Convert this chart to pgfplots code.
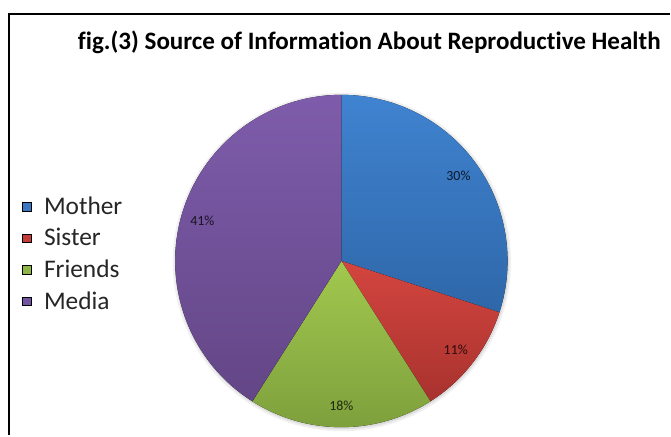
\documentclass[border=0pt]{standalone}
\usepackage{fontspec}
\setmainfont{Carlito}[Ligatures=NoCommon]
\usepackage{pgfplots}
\usepackage{pgfplotstable}
\pgfplotsset{compat=1.18}

% slice colours: lighter at the top, darker at the bottom
\definecolor{sliceTop0}{HTML}{4083D0}
\definecolor{sliceBot0}{HTML}{2E67A9}
\definecolor{sliceTop1}{HTML}{D4453F}
\definecolor{sliceBot1}{HTML}{A8322E}
\definecolor{sliceTop2}{HTML}{A2C84E}
\definecolor{sliceBot2}{HTML}{7C9E3C}
\definecolor{sliceTop3}{HTML}{7E5CAB}
\definecolor{sliceBot3}{HTML}{634686}
\definecolor{key0}{HTML}{3A78C2}
\definecolor{key1}{HTML}{C43C37}
\definecolor{key2}{HTML}{8DB543}
\definecolor{key3}{HTML}{7155A0}

\pgfplotstableread{
name value
Mother 30
Sister 11
Friends 18
Media 41
}\piedata

\begin{document}
\begin{tikzpicture}
% cumulative angles, clockwise from 12 o'clock
\xdef\curang{90}
\foreach \i in {0,1,2,3}{%
  \pgfplotstablegetelem{\i}{value}\of\piedata
  \xdef\curval{\pgfplotsretval}
  \pgfmathsetmacro\endang{\curang-3.6*\curval}
  \pgfmathsetmacro\midang{\curang-1.8*\curval}
  \expandafter\xdef\csname pieS\i\endcsname{\curang}
  \expandafter\xdef\csname pieE\i\endcsname{\endang}
  \expandafter\xdef\csname pieM\i\endcsname{\midang}
  \expandafter\xdef\csname pieV\i\endcsname{\curval}
  \xdef\curang{\endang}
}
\begin{axis}[
  scale only axis, width=671bp, height=436bp,
  xmin=0, xmax=671, ymin=0, ymax=436,
  hide axis, clip=false,
  legend image code/.code={\fill[#1] (0bp,-4.5bp) rectangle (8.5bp,4bp);},
  legend style={
    at={(axis cs:22,240)}, anchor=north west,
    draw=none, fill=none, inner sep=0pt,
    font=\fontsize{25.5}{29}\selectfont, text=black!85,
    row sep=10.5bp,
    nodes={inner xsep=13bp, inner ysep=1bp},
  },
  legend cell align=left,
]
% canvas
\path[fill=white] (axis cs:0,0) rectangle (axis cs:671,436);
% frame
\draw[line width=2.5bp] (axis cs:9,0) -- (axis cs:9,422) -- (axis cs:671,422);
% title
\node[font=\bfseries\fontsize{25.2}{29}\selectfont] at (axis cs:370,394)
  {fig.(3) Source of Information About Reproductive Health};
% soft shadow under the pie
\fill[black, opacity=0.06] (axis cs:342.5,173.5) circle[radius=169.5bp];
\fill[black, opacity=0.08] (axis cs:342.5,173.5) circle[radius=167.5bp];
% slices
\pgfplotsinvokeforeach{0,1,2,3}{
  \fill[top color=sliceTop#1, bottom color=sliceBot#1]
    (axis cs:342,174.5) -- ++(\csname pieS#1\endcsname:166.5bp)
    arc[start angle=\csname pieS#1\endcsname, end angle=\csname pieE#1\endcsname, radius=166.5bp]
    -- cycle;
}
% percentage labels
\pgfplotsinvokeforeach{0,1,2,3}{
  \path (axis cs:342,174.5) ++(\csname pieM#1\endcsname:145bp)
    node[font=\fontsize{14}{16}\selectfont, text=sliceBot#1!25!black]
    {\csname pieV#1\endcsname\%};
}
% legend
\addlegendimage{fill=key0}\addlegendentry{Mother}
\addlegendimage{fill=key1}\addlegendentry{Sister}
\addlegendimage{fill=key2}\addlegendentry{Friends}
\addlegendimage{fill=key3}\addlegendentry{Media}
\end{axis}
\end{tikzpicture}
\end{document}
